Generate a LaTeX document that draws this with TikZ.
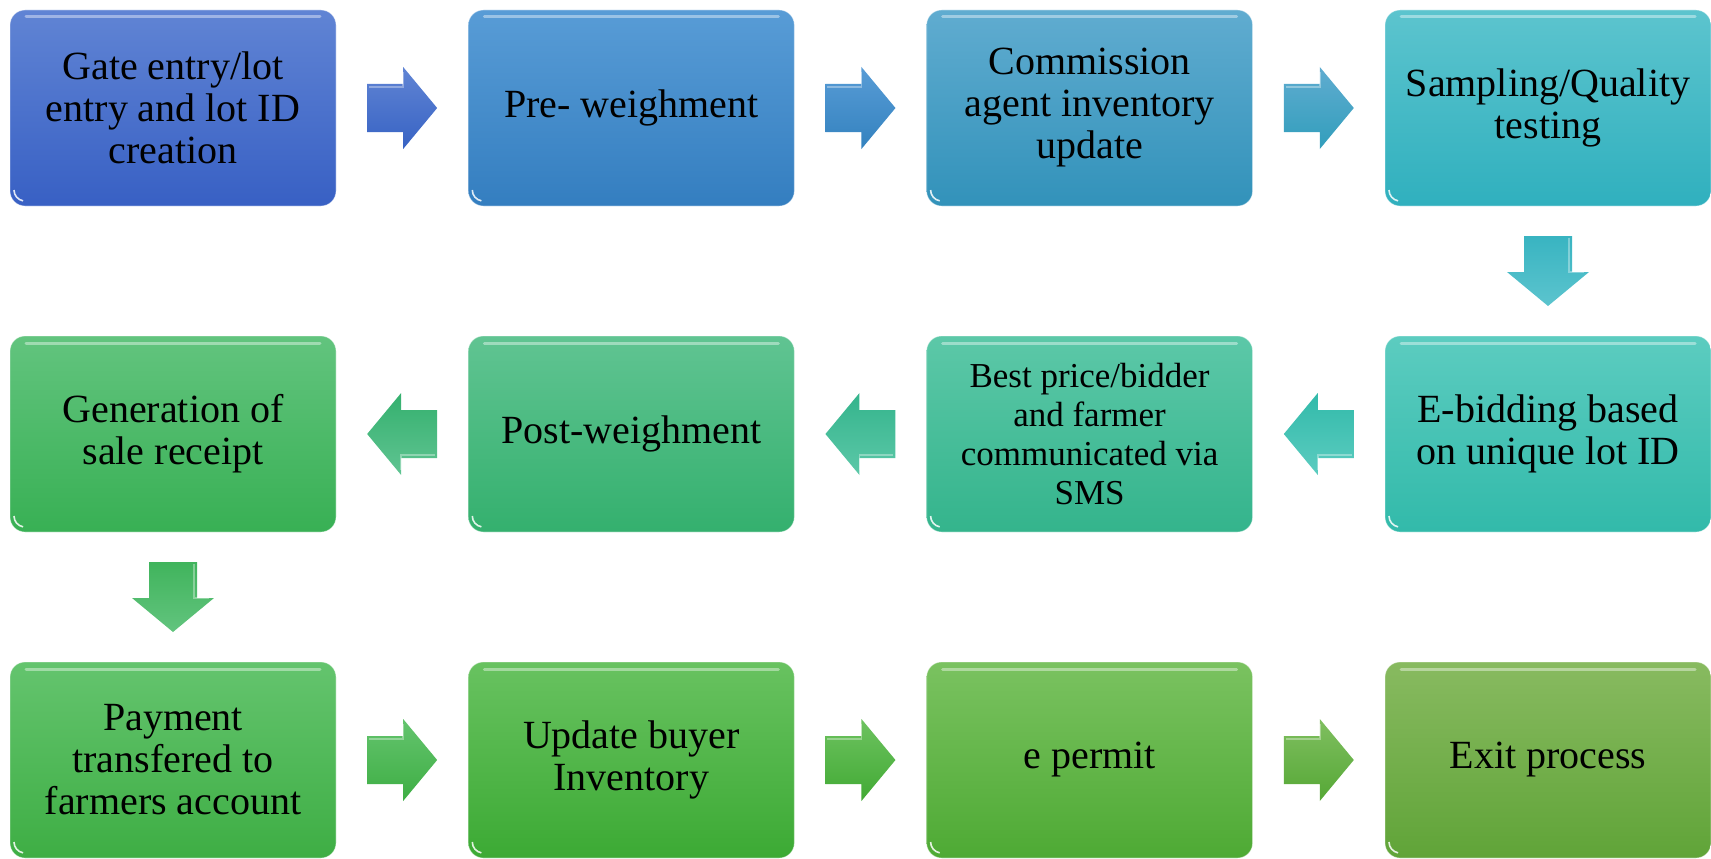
\documentclass[tikz,border=0pt]{standalone}
\usepackage{fontspec}
\setmainfont{Liberation Serif}
\usetikzlibrary{calc}

\definecolor{gateT}{RGB}{96,132,212}  \definecolor{gateB}{RGB}{56,96,196}
\definecolor{prewT}{RGB}{88,156,214}  \definecolor{prewB}{RGB}{52,126,192}
\definecolor{commT}{RGB}{96,172,208}  \definecolor{commB}{RGB}{50,146,186}
\definecolor{sampT}{RGB}{92,196,206}  \definecolor{sampB}{RGB}{48,176,190}
\definecolor{ebidT}{RGB}{92,204,192}  \definecolor{ebidB}{RGB}{50,186,170}
\definecolor{bestT}{RGB}{92,200,168}  \definecolor{bestB}{RGB}{52,180,140}
\definecolor{postT}{RGB}{96,196,146}  \definecolor{postB}{RGB}{52,176,110}
\definecolor{rcptT}{RGB}{98,196,126}  \definecolor{rcptB}{RGB}{56,176,84}
\definecolor{payT}{RGB}{100,196,110}  \definecolor{payB}{RGB}{62,174,68}
\definecolor{buyrT}{RGB}{104,194,96}  \definecolor{buyrB}{RGB}{60,170,52}
\definecolor{permT}{RGB}{122,194,96}  \definecolor{permB}{RGB}{78,170,52}
\definecolor{exitT}{RGB}{136,186,96}  \definecolor{exitB}{RGB}{96,164,56}

\begin{document}
\begin{tikzpicture}[x=1pt, y=1pt,
	stepbox/.style={rectangle, rounded corners=15pt, minimum width=326pt, minimum height=196pt,
		inner sep=0pt, align=center, font=\fontsize{40}{42}\selectfont,
		draw=white, draw opacity=0.45, line width=0.8pt,
		path picture={
			\draw[white, opacity=0.4, line width=3pt, line cap=round]
				([xshift=16pt,yshift=-7pt]path picture bounding box.north west) --
				([xshift=-16pt,yshift=-7pt]path picture bounding box.north east);
			\draw[white, opacity=0.85, line width=1.6pt]
				([xshift=4pt,yshift=16pt]path picture bounding box.south west)
				arc[start angle=180, end angle=260, radius=11pt];}},
	pics/blockarrow/.style={code={
		\path[#1] (-35,24) -- (1,24) -- (1,41) -- (35,0) -- (1,-41) -- (1,-24) -- (-35,-24) -- cycle;
		\draw[white, opacity=0.35, line width=1.5pt] (-33,21) -- (1,21) -- (1,36);}}]
			\useasboundingbox (0,0) rectangle (1711,-859);
			
			\node[stepbox, top color=gateT, bottom color=gateB] (gate) at (173,-108) {Gate entry/lot\\entry and lot ID\\creation};
			\node[stepbox, top color=prewT, bottom color=prewB] (prew) at (631.3,-108) {Pre- weighment};
			\node[stepbox, top color=commT, bottom color=commB] (comm) at (1089.6,-108) {Commission\\agent inventory\\update};
			\node[stepbox, top color=sampT, bottom color=sampB] (samp) at (1548,-108) {Sampling/Quality\\testing};
			
			\node[stepbox, top color=ebidT, bottom color=ebidB] (ebid) at (1548,-434) {E-bidding based\\on unique lot ID};
			\node[stepbox, top color=bestT, bottom color=bestB, font=\fontsize{35}{39}\selectfont] (best) at (1089.6,-434) {Best price/bidder\\and farmer\\communicated via\\SMS};
			\node[stepbox, top color=postT, bottom color=postB] (postw) at (631.3,-434) {Post-weighment};
			\node[stepbox, top color=rcptT, bottom color=rcptB] (rcpt) at (173,-434) {Generation of\\sale receipt};
			
			\node[stepbox, top color=payT, bottom color=payB] (pay) at (173,-760) {Payment\\transfered to\\farmers account};
			\node[stepbox, top color=buyrT, bottom color=buyrB] (buyer) at (631.3,-760) {Update buyer\\Inventory};
			\node[stepbox, top color=permT, bottom color=permB] (permit) at (1089.6,-760) {e permit};
			\node[stepbox, top color=exitT, bottom color=exitB] (exitp) at (1548,-760) {Exit process};
			
			\pic at ($(gate)!0.5!(prew)$) {blockarrow={top color=gateT, bottom color=gateB!90!prewB}};
			\pic at ($(prew)!0.5!(comm)$) {blockarrow={top color=prewT, bottom color=prewB!80!commB}};
			\pic at ($(comm)!0.5!(samp)$) {blockarrow={top color=commT, bottom color=commB!60!sampB}};
			\pic[rotate=-90] at ($(samp)!0.5!(ebid)$) {blockarrow={top color=sampB!80!sampT, bottom color=sampT}};
			
			\pic[rotate=180] at ($(ebid)!0.5!(best)$) {blockarrow={top color=ebidB, bottom color=ebidT}};
			\pic[rotate=180] at ($(best)!0.5!(postw)$) {blockarrow={top color=bestB, bottom color=bestT}};
			\pic[rotate=180] at ($(postw)!0.5!(rcpt)$) {blockarrow={top color=postB, bottom color=postT}};
			\pic[rotate=-90] at ($(rcpt)!0.5!(pay)$) {blockarrow={top color=rcptB!80!rcptT, bottom color=rcptT}};
			
			\pic at ($(pay)!0.5!(buyer)$) {blockarrow={top color=payT, bottom color=payB}};
			\pic at ($(buyer)!0.5!(permit)$) {blockarrow={top color=buyrT!70!permT, bottom color=buyrB!70!permB}};
			\pic at ($(permit)!0.5!(exitp)$) {blockarrow={top color=permT!60!exitT, bottom color=permB!60!exitB}};
\end{tikzpicture}
\end{document}
